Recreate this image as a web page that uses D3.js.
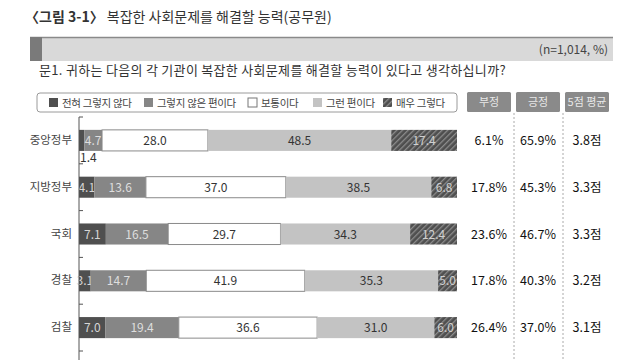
<!DOCTYPE html>
<html><head><meta charset="utf-8">
<script src="https://cdn.jsdelivr.net/npm/d3@7"></script>
<style>
body{margin:0;background:#fff;}
svg{display:block;font-family:"Noto Sans CJK KR","Noto Sans",sans-serif;}
</style></head>
<body>
<svg id="c" width="640" height="360"></svg>
<script>
const categories = ["중앙정부","지방정부","국회","경찰","검찰"];
const seriesNames = ["전혀 그렇지 않다","그렇지 않은 편이다","보통이다","그런 편이다","매우 그렇다"];
const s1 = [1.4, 4.1, 7.1, 3.1, 7.0];
const s2 = [4.7, 13.6, 16.5, 14.7, 19.4];
const s3 = [28.0, 37.0, 29.7, 41.9, 36.6];
const s4 = [48.5, 38.5, 34.3, 35.3, 31.0];
const s5 = [17.4, 6.8, 12.4, 5.0, 6.0];
const negative = [6.1, 17.8, 23.6, 17.8, 26.4];
const positive = [65.9, 45.3, 46.7, 40.3, 37.0];
const average = [3.8, 3.3, 3.3, 3.2, 3.1];
const colHeaders = ["부정","긍정","5점 평균"];
const xTicks = [0, 100];

const svg = d3.select("#c");
const defs = svg.append("defs");
const pat = defs.append("pattern").attr("id","hatch").attr("patternUnits","userSpaceOnUse")
  .attr("width",4).attr("height",4).attr("patternTransform","rotate(45)");
pat.append("rect").attr("width",4).attr("height",4).attr("fill","#4e4e4e");
pat.append("rect").attr("width",1.3).attr("height",4).attr("fill","#8c8c8c");

const fills = ["#4f4f4f","#868686","#ffffff","#c3c3c3","url(#hatch)"];
const textFills = ["#d6d6d6","#dedede","#333","#333","#d0d0d0"];
const data = categories.map((c,i)=>({cat:c, vals:[s1[i],s2[i],s3[i],s4[i],s5[i]], neg:negative[i], pos:positive[i], avg:average[i]}));

// title
const t = svg.append("text").attr("x",25).attr("y",22).attr("font-size",14).attr("fill","#333");
t.append("tspan").attr("font-weight","bold").text("〈그림 3-1〉");
t.append("tspan").text(" 복잡한 사회문제를 해결할 능력(공무원)");

// gray band
svg.append("rect").attr("x",30).attr("y",37).attr("width",583).attr("height",24).attr("fill","#d9d9d9");
svg.append("line").attr("x1",30).attr("x2",613).attr("y1",37.5).attr("y2",37.5).attr("stroke","#8a8a8a").attr("stroke-width",1.5);
svg.append("rect").attr("x",30).attr("y",37).attr("width",12).attr("height",24).attr("fill","#7a7a7a");
svg.append("text").attr("x",608).attr("y",54).attr("text-anchor","end").attr("font-size",12).attr("fill","#444").text("(n=1,014, %)");
svg.append("text").attr("x",39).attr("y",75).attr("font-size",13).attr("letter-spacing",0.3).attr("fill","#333")
  .text("문1. 귀하는 다음의 각 기관이 복잡한 사회문제를 해결할 능력이 있다고 생각하십니까?");

// scales
const x = d3.scaleLinear().domain(xTicks).range([79,457]);
const y = d3.scaleBand().domain(categories).range([117,351]).paddingInner(0.55).paddingOuter(0.275);

// legend
svg.append("rect").attr("x",37).attr("y",93).attr("width",420).attr("height",19).attr("rx",3)
  .attr("fill","#fff").attr("stroke","#9a9a9a");
const legX = [49,144,248,313,383];
seriesNames.forEach((n,i)=>{
  svg.append("rect").attr("x",legX[i]).attr("y",98).attr("width",9).attr("height",9)
    .attr("fill",fills[i]).attr("stroke", i===2?"#777":"none");
  svg.append("text").attr("x",legX[i]+13).attr("y",106.5).attr("font-size",10.5).attr("letter-spacing",-0.3)
    .attr("fill","#444").text(n);
});

// column headers
const colX = [489,538,587];
colHeaders.forEach((h,i)=>{
  svg.append("rect").attr("x",colX[i]-22).attr("y",92).attr("width",44).attr("height",20).attr("rx",1.5).attr("fill","#8a8a8a");
  svg.append("text").attr("x",colX[i]).attr("y",106).attr("text-anchor","middle").attr("font-size",11).attr("fill","#e8e8e8").text(h);
});
// dashed separators
[514,563].forEach(xx=>{
  svg.append("line").attr("x1",xx).attr("x2",xx).attr("y1",113).attr("y2",360)
    .attr("stroke","#aaa").attr("stroke-dasharray","2,2");
});

// bars
const g = svg.append("g");
data.forEach(d=>{
  let acc = 0;
  d.vals.forEach((v,i)=>{
    const x0 = x(acc), x1 = x(acc+v);
    g.append("rect").attr("x",x0).attr("y",y(d.cat)).attr("width",x1-x0).attr("height",y.bandwidth())
      .attr("fill",fills[i]).attr("stroke", i===2?"#8a8a8a":"none").attr("stroke-width",1);
    const small = v < 2;
    g.append("text")
      .attr("x", small ? x0+1 : (x0+x1)/2)
      .attr("y", small ? y(d.cat)+y.bandwidth()+11 : y(d.cat)+y.bandwidth()/2+4.5)
      .attr("text-anchor", small ? "start" : "middle")
      .attr("font-size",12)
      .attr("fill", small ? "#333" : textFills[i])
      .text(v.toFixed(1));
    acc += v;
  });
  const cy = y(d.cat)+y.bandwidth()/2+4.5;
  [d.neg.toFixed(1)+"%", d.pos.toFixed(1)+"%", d.avg.toFixed(1)+"점"].forEach((s,i)=>{
    svg.append("text").attr("x",colX[i]).attr("y",cy).attr("text-anchor","middle")
      .attr("font-size",12.5).attr("fill","#111").text(s);
  });
});

// axis
const axis = d3.axisLeft(y).tickSize(0).tickPadding(7);
const ag = svg.append("g").attr("transform","translate(79,0)").call(axis);
ag.select(".domain").remove();
ag.selectAll("text").attr("font-size",11.5).attr("fill","#444").attr("font-family","Noto Sans CJK KR");
svg.append("line").attr("x1",79).attr("x2",79).attr("y1",117).attr("y2",360).attr("stroke","#555").attr("stroke-width",1);
const boundaries = d3.range(categories.length+1).map(i=>y.range()[0]+i*y.step());
boundaries.forEach(b=>{
  svg.append("line").attr("x1",79).attr("x2",83).attr("y1",b).attr("y2",b).attr("stroke","#555");
});
</script>
</body></html>
